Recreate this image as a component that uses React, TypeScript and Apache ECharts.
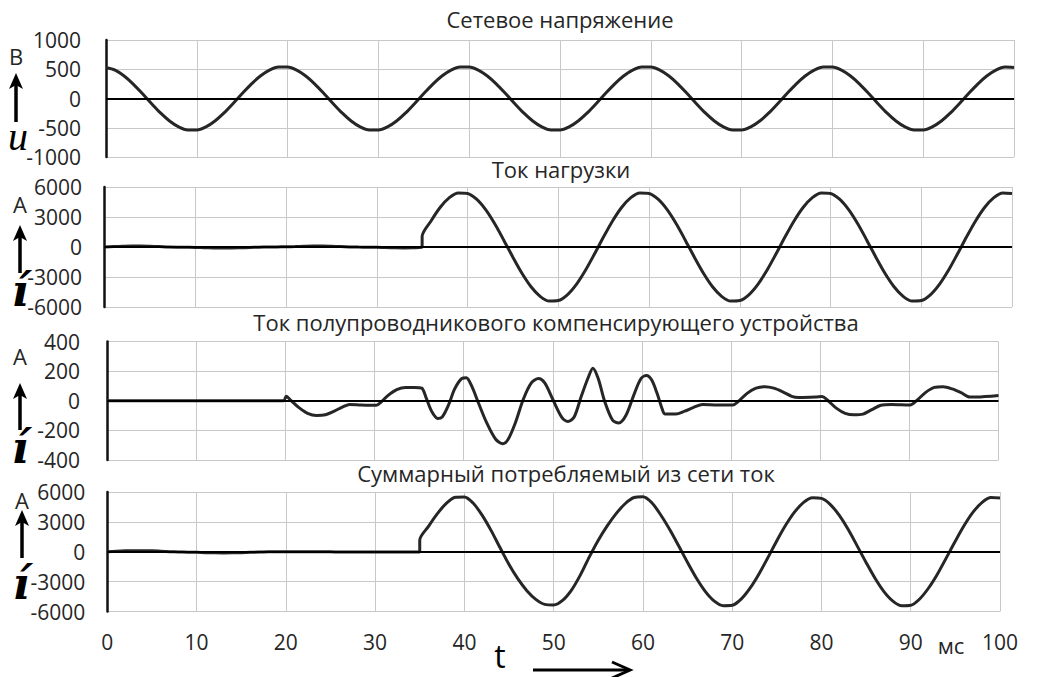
import React, { useEffect, useRef } from "react";
import * as echarts from "echarts";

// ---- data ----
const titles = [
  "Сетевое напряжение",
  "Ток нагрузки",
  "Ток полупроводникового компенсирующего устройства",
  "Суммарный потребляемый из сети ток",
];

// time grid for the uniformly sampled curves, ms
const timeMs = Array.from({ length: 101 }, (_, i) => i);

// Сетевое напряжение, В (t = 0..100 ms, step 1 ms)
const voltage = [
  525, 486, 385, 247, 85, -85, -247, -385, -486, -538, -538, -486, -385, -247, -85, 85, 247, 385, 486, 538,
  538, 486, 385, 247, 85, -85, -247, -385, -486, -538, -538, -486, -385, -247, -85, 85, 247, 385, 486, 538,
  538, 486, 385, 247, 85, -85, -247, -385, -486, -538, -538, -486, -385, -247, -85, 85, 247, 385, 486, 538,
  538, 486, 385, 247, 85, -85, -247, -385, -486, -538, -538, -486, -385, -247, -85, 85, 247, 385, 486, 538,
  538, 486, 385, 247, 85, -85, -247, -385, -486, -538, -538, -486, -385, -247, -85, 85, 247, 385, 486, 538,
  530,
];

// Ток нагрузки, А: before switching (t = 0..35 ms)
const loadBefore = [
  0, 40, 70, 90, 90, 70, 40, 0, -20, -30, -40, -70, -90, -100, -100, -80, -50, -20, 0, 10,
  20, 40, 70, 90, 90, 70, 40, 10, -10, -20, -30, -60, -80, -90, -80, -60,
];
// after switching (t = 35..100 ms)
const loadAfter = [
  1050, 2626, 3973, 4931, 5407, 5354, 4776, 3731, 2321, 683, -1021, -2626, -3973, -4931, -5407, -5354, -4776, -3731, -2321, -683,
  1021, 2626, 3973, 4931, 5407, 5354, 4776, 3731, 2321, 683, -1021, -2626, -3973, -4931, -5407, -5354, -4776, -3731, -2321, -683,
  1021, 2626, 3973, 4931, 5407, 5354, 4776, 3731, 2321, 683, -1021, -2626, -3973, -4931, -5407, -5354, -4776, -3731, -2321, -683,
  1021, 2626, 3973, 4931, 5407, 5354,
];

// Ток компенсирующего устройства, А: [t ms, value]
const compensator: [number, number][] = [
  [0, 0], [19.8, 0], [20.1, 30], [20.5, 10], [21.5, -45], [22.5, -85], [23.5, -100], [24.5, -95], [25.5, -70],
  [26.5, -40], [27.2, -25], [28.5, -28], [30.2, -30], [30.8, -5], [31.5, 35], [32.5, 75], [33.5, 90], [34.5, 90],
  [35.3, 85], [35.8, 20], [36.4, -70], [37.1, -120], [37.6, -110], [38.3, -30], [39.0, 80], [39.8, 150], [40.3, 155],
  [40.9, 100], [41.7, -20], [42.6, -150], [43.6, -260], [44.4, -290], [45.0, -260], [45.8, -150], [46.7, 10],
  [47.6, 120], [48.4, 150], [49.1, 120], [50.0, 10], [51.0, -110], [51.7, -140], [52.4, -110], [53.2, 30],
  [54.0, 160], [54.5, 220], [55.1, 150], [55.8, 0], [56.7, -130], [57.4, -150], [58.2, -100], [59.1, 40],
  [59.9, 150], [60.5, 170], [61.1, 140], [61.7, 50], [62.3, -60], [62.6, -90], [63.8, -90], [64.8, -70],
  [65.8, -45], [66.8, -25], [68.5, -28], [70.2, -28], [70.8, -5], [71.8, 50], [72.8, 85], [73.8, 95], [74.8, 85],
  [75.8, 60], [76.8, 30], [77.6, 22], [79.5, 25], [80.2, 28], [80.8, 5], [81.8, -50], [82.8, -85], [83.8, -95],
  [84.8, -90], [85.8, -60], [86.8, -30], [88, -25], [90.1, -28], [90.8, 0], [91.8, 55], [92.8, 90], [93.8, 95],
  [94.8, 80], [95.8, 55], [96.8, 25], [97.5, 25], [100, 35],
];

// Суммарный ток, А: before switching (t = 0..35 ms)
const totalBefore = [
  0, 50, 90, 110, 110, 90, 50, 10, -20, -40, -60, -90, -110, -120, -110, -90, -60, -30, -10, 0,
  0, 10, 10, 10, 0, -10, -20, -30, -30, -30, -30, -30, -30, -30, -30, -30,
];
// after switching (t = 35..100 ms)
const totalAfter = [
  1150, 2576, 3853, 4881, 5467, 5509, 4866, 3651, 2121, 398, -1281, -2726, -3913, -4786, -5287, -5344, -4886, -3851, -2321, -513,
  1161, 2596, 3828, 4821, 5447, 5519, 4916, 3691, 2231, 598, -1071, -2656, -3998, -4960, -5420, -5380, -4760, -3660, -2230, -590,
  1110, 2680, 4000, 4960, 5420, 5360, 4740, 3650, 2230, 590, -1080, -2660, -4000, -4960, -5430, -5380, -4740, -3640, -2230, -590,
  1080, 2660, 4000, 4960, 5440, 5390,
];

const yRanges = [
  { min: -1000, max: 1000, interval: 500 },
  { min: -6000, max: 6000, interval: 3000 },
  { min: -400, max: 400, interval: 200 },
  { min: -6000, max: 6000, interval: 3000 },
];

// ---- build ----
const pairs = (ts: number[], vs: number[]) => vs.map((v, i) => [ts[i], v]);
const switchSeries = (before: number[], after: number[]) => [
  ...pairs(timeMs.slice(0, 36), before),
  ...pairs(timeMs.slice(35), after),
];

const FONT = "'Open Sans', 'Noto Sans', sans-serif";
const TEXT = "#262626";
const GRIDC = "#c8c8c8";

export default function App() {
  const ref = useRef<HTMLDivElement>(null);
  useEffect(() => {
    document.body.style.margin = "0";
    const chart = echarts.init(ref.current!, null, { renderer: "svg" });
    const grids = [
      { left: 106, right: 25, top: 40, height: 117 },
      { left: 104.5, right: 27, top: 187, height: 120 },
      { left: 107, right: 40.5, top: 341.5, height: 118.5 },
      { left: 107.3, right: 39, top: 492, height: 119.5 },
    ];
    const labelMargins = [25, 22.5, 27, 22];
    const seriesData = [
      pairs(timeMs, voltage),
      switchSeries(loadBefore, loadAfter),
      compensator,
      switchSeries(totalBefore, totalAfter),
    ];
    const titlePos = [
      [560, 19],
      [561, 169],
      [556, 322],
      [566, 473],
    ];

    const upArrow = (x: number, tip: number, bottom: number) => [
      { type: "line", shape: { x1: x, y1: bottom, x2: x, y2: tip + 10 }, style: { stroke: "#000", lineWidth: 3.5 } },
      { type: "polygon", shape: { points: [[x - 7, tip + 16], [x, tip], [x + 7, tip + 16], [x, tip + 12]] }, style: { fill: "#000" } },
    ];
    const unitText = (t: string, x: number, y: number) => ({
      type: "text", x, y,
      style: { text: t, fontSize: 22, fontFamily: FONT, fill: TEXT, align: "center", verticalAlign: "middle" },
    });
    const symText = (t: string, x: number, y: number, size: number) => ({
      type: "text", x, y,
      style: { text: t, fontSize: size, fontStyle: "italic", fontWeight: "bold", fontFamily: "'DejaVu Serif', serif", fill: "#000", align: "center", verticalAlign: "middle" },
    });

    const graphic: any[] = [
      ...titles.map((t, i) => ({
        type: "text", x: titlePos[i][0], y: titlePos[i][1],
        style: { text: t, fontSize: 22, fontFamily: FONT, fill: TEXT, align: "center", verticalAlign: "middle" },
      })),
      unitText("В", 16, 56),
      ...upArrow(16, 73, 122),
      { type: "text", x: 18, y: 136, style: { text: "u", fontSize: 40, fontStyle: "italic", fontFamily: "'Liberation Serif', serif", fill: "#000", align: "center", verticalAlign: "middle" } },
      unitText("А", 20, 204),
      ...upArrow(20, 225, 273),
      symText("í", 20, 290, 44),
      unitText("А", 20, 356),
      ...upArrow(20, 383, 430),
      symText("í", 20, 447, 44),
      unitText("А", 22, 500),
      ...upArrow(22, 510, 558),
      symText("í", 21, 583, 44),
      { type: "text", x: 951, y: 645, style: { text: "мс", fontSize: 22, fontFamily: FONT, fill: TEXT, align: "center", verticalAlign: "middle" } },
      { type: "text", x: 500, y: 655, style: { text: "t", fontSize: 32, fontFamily: FONT, fill: "#000", align: "center", verticalAlign: "middle" } },
      { type: "line", shape: { x1: 533, y1: 670, x2: 628, y2: 670 }, style: { stroke: "#000", lineWidth: 3 } },
      { type: "polyline", shape: { points: [[612, 662], [630, 670], [612, 678]] }, style: { stroke: "#000", lineWidth: 3, fill: "none" } },
    ];

    chart.setOption({
      animation: false,
      grid: grids,
      xAxis: grids.map((_, i) => ({
        type: "value", gridIndex: i, min: 0, max: 100, interval: 10,
        axisLine: { show: false }, axisTick: { show: false },
        splitLine: { show: true, lineStyle: { color: GRIDC, width: 1 } },
        axisLabel: { show: i === 3, fontSize: 21, color: TEXT, margin: 20, fontFamily: FONT },
      })),
      yAxis: grids.map((_, i) => ({
        type: "value", gridIndex: i, ...yRanges[i],
        axisLine: { show: true, onZero: false, lineStyle: { color: "#111", width: 2.5 } },
        axisTick: { show: false },
        splitLine: { show: true, lineStyle: { color: GRIDC, width: 1 } },
        axisLabel: {
          fontSize: 21, color: TEXT, margin: labelMargins[i], fontFamily: FONT,
          formatter: (v: number) => String(v),
        },
      })),
      series: seriesData.map((d, i) => ({
        type: "line", xAxisIndex: i, yAxisIndex: i, data: d,
        showSymbol: false, smooth: 0.3,
        lineStyle: { color: "#262626", width: 3 },
        markLine: {
          silent: true, symbol: ["none", "none"], label: { show: false },
          lineStyle: { color: "#000", width: 2, type: "solid" },
          data: [{ yAxis: 0 }],
        },
      })),
      graphic,
    });
    return () => chart.dispose();
  }, []);
  return <div ref={ref} style={{ width: 1039, height: 677 }} />;
}
